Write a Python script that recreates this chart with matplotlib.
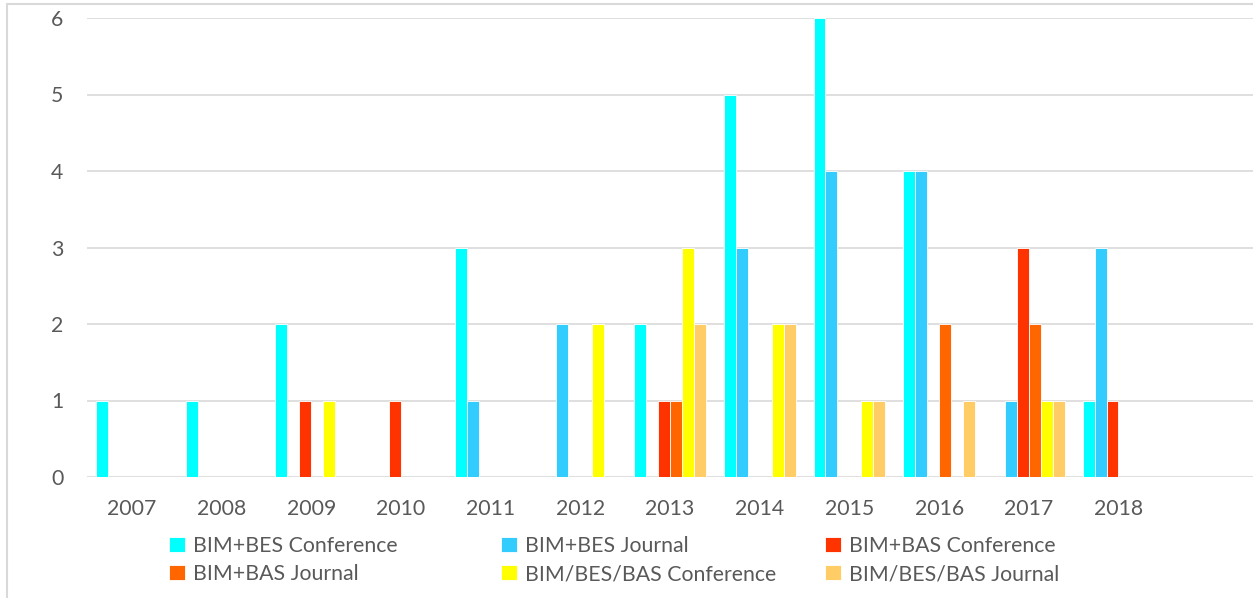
import matplotlib
matplotlib.use("Agg")
import matplotlib.pyplot as plt
import numpy as np
from matplotlib.patches import Rectangle

plt.rcParams["font.family"] = ["Lato", "DejaVu Sans"]

years = ["2007", "2008", "2009", "2010", "2011", "2012",
         "2013", "2014", "2015", "2016", "2017", "2018"]

bes_conference = [1, 1, 2, 0, 3, 0, 2, 5, 6, 4, 0, 1]
bes_journal = [0, 0, 0, 0, 1, 2, 0, 3, 4, 4, 1, 3]
bas_conference = [0, 0, 1, 1, 0, 0, 1, 0, 0, 0, 3, 1]
bas_journal = [0, 0, 0, 0, 0, 0, 1, 0, 0, 2, 2, 0]
all_conference = [0, 0, 1, 0, 0, 2, 3, 2, 1, 0, 1, 0]
all_journal = [0, 0, 0, 0, 0, 0, 2, 2, 1, 1, 1, 0]

series = [
    ("BIM+BES Conference", bes_conference, "#00FFFF"),
    ("BIM+BES Journal", bes_journal, "#33CCFF"),
    ("BIM+BAS Conference", bas_conference, "#FF3300"),
    ("BIM+BAS Journal", bas_journal, "#FF6600"),
    ("BIM/BES/BAS Conference", all_conference, "#FFFF00"),
    ("BIM/BES/BAS Journal", all_journal, "#FFCC66"),
]

W, H = 1253, 598
FS = 15.3
fig = plt.figure(figsize=(W / 100, H / 100), dpi=100)
ax = fig.add_axes([87 / W, 1 - 477 / H, 1 - 87 / W, (477 - 18) / H])

# outer chart frame (only left/top edges fall inside the canvas)
fig.patches.append(Rectangle((7 / W, -0.1), 1.2, 1 - 4 / H + 0.1,
                             transform=fig.transFigure, fill=False,
                             edgecolor="#D9D9D9", linewidth=1.5))

x = np.arange(len(years))
width = 0.8 / len(series)
handles = []
for i, (label, vals, color) in enumerate(series):
    b = ax.bar(x + (i - 2.5) * width, vals, width, color=color,
               edgecolor="white", linewidth=0.6, label=label, zorder=3)
    handles.append(b)

ax.set_xlim(-0.5, len(years) + 0.5)
ax.set_ylim(0, 6)
ax.set_yticks(range(0, 7))
ax.set_xticks(x)
ax.set_xticklabels(years)
ax.grid(axis="y", color="#D9D9D9", linewidth=1.2, zorder=0)
ax.tick_params(axis="both", length=0, labelsize=FS, colors="#595959")
ax.tick_params(axis="y", pad=17)
ax.tick_params(axis="x", pad=16)
for s in ax.spines.values():
    s.set_visible(False)

# legend laid out as three fixed-width columns, two rows each
col_x = [169, 501, 825]
for c, cx in enumerate(col_x):
    idx = [c, c + 3]
    fig.legend([handles[k] for k in idx], [series[k][0] for k in idx],
               loc="center left", bbox_to_anchor=(cx / W, 1 - 560 / H),
               ncol=1, frameon=False, fontsize=FS, labelcolor="#595959",
               handlelength=0.75, handleheight=0.75, handletextpad=0.4,
               labelspacing=0.38, borderaxespad=0, borderpad=0)

fig.savefig("out.png", dpi=100)
